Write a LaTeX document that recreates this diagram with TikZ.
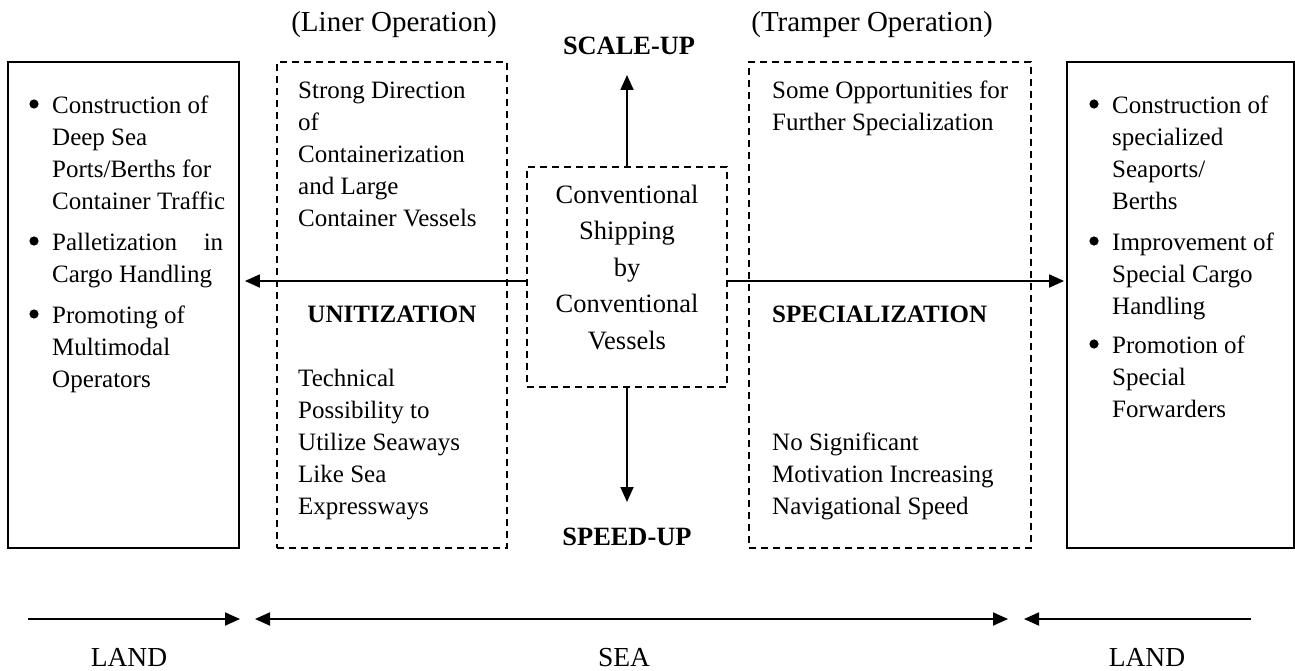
\documentclass[tikz,border=0pt]{standalone}
\usepackage{fontspec}
\setmainfont{Liberation Serif}
\usetikzlibrary{arrows.meta}

\tikzset{
  solidbox/.style={draw, line width=1.8pt, inner sep=0pt},
  dashbox/.style={draw, line width=1.6pt, dash pattern=on 7pt off 5pt, inner sep=0pt},
  arr/.style={line width=1.8pt, -{Triangle[length=15pt,width=13pt]}},
  dblarr/.style={line width=1.8pt, {Triangle[length=15pt,width=13pt]}-{Triangle[length=15pt,width=13pt]}},
  body/.style={inner sep=0pt, font=\fontsize{25}{32}\selectfont, align=left, anchor=north west},
  centretext/.style={inner sep=0pt, font=\fontsize{26.5}{36.5}\selectfont, align=center, anchor=north},
  head/.style={inner sep=0pt, font=\fontsize{29}{34}\selectfont, anchor=base},
  tag/.style={inner sep=0pt, font=\fontsize{26.4}{30}\selectfont\bfseries, anchor=base},
  keyword/.style={inner sep=0pt, font=\fontsize{25}{30}\selectfont\bfseries, anchor=base},
  region/.style={inner sep=0pt, font=\fontsize{27.5}{32}\selectfont, anchor=base},
  dot/.style={fill=black}
}

\begin{document}
\begin{tikzpicture}[x=1pt, y=-1pt]
\useasboundingbox (0,0) rectangle (1295,671);

% boxes
\node[solidbox, minimum width=231pt, minimum height=486pt] (landL) at (123.5,305) {};
\node[dashbox,  minimum width=230pt, minimum height=486pt] (liner) at (392,305) {};
\node[dashbox,  minimum width=200pt, minimum height=220pt] (conv) at (627,277) {};
\node[dashbox,  minimum width=282pt, minimum height=486pt] (tramper) at (890,305) {};
\node[solidbox, minimum width=227pt, minimum height=486pt] (landR) at (1180.5,305) {};

% headings above the sea columns
\node[head] (hLiner) at (394,32) {(Liner Operation)};
\node[head] (hTramper) at (872,32) {(Tramper Operation)};

% centre box
\node[centretext] (convText) at (627,177.45)
  {\strut Conventional\\Shipping\\by\\Conventional\\Vessels};

% direction arrows from the centre box
\coordinate (upEnd) at (627,75);
\coordinate (downEnd) at (627,502);
\coordinate (hl) at ([yshift=-4pt]conv.west);
\coordinate (hr) at ([yshift=-4pt]conv.east);
\draw[arr] (conv.north) -- (conv.north |- upEnd);
\draw[arr] (conv.south) -- (conv.south |- downEnd);
\draw[arr, shorten >=5pt] (hl) -- (hl -| landL.east);
\draw[arr, shorten >=2pt] (hr) -- (hr -| landR.west);

\node[tag] (scaleUp) at (629,55) {SCALE-UP};
\node[tag] (speedUp) at (627,545) {SPEED-UP};

% liner column
\node[body] (linerTop) at (298,75.6)
  {\strut Strong Direction\\of\\Containerization\\and Large\\Container Vessels};
\node[keyword] (unit) at (392,322) {UNITIZATION};
\node[body] (linerBottom) at (298,363.6)
  {\strut Technical\\Possibility to\\Utilize Seaways\\Like Sea\\Expressways};

% tramper column
\node[body] (trampTop) at (772,75.6)
  {\strut Some Opportunities for\\Further Specialization};
\node[keyword, anchor=base west] (spec) at (772,322) {SPECIALIZATION};
\node[body] (trampBottom) at (772,427.6)
  {\strut No Significant\\Motivation Increasing\\Navigational Speed};

% land side, liner ports
\fill[dot] (34,104) circle (4.6pt);
\fill[dot] (34,241) circle (4.6pt);
\fill[dot] (34,314) circle (4.6pt);
\node[body] (lA) at (52,90.6)
  {\strut Construction of\\Deep Sea\\Ports/Berths for\\Container Traffic};
\node[body] (lB) at (52,227.6)
  {\strut\makebox[171pt][l]{Palletization\hfill in}\\Cargo Handling};
\node[body] (lC) at (52,300.6)
  {\strut Promoting of\\Multimodal\\Operators};

% land side, special ports
\fill[dot] (1094,104) circle (4.6pt);
\fill[dot] (1094,241) circle (4.6pt);
\fill[dot] (1094,344) circle (4.6pt);
\node[body] (rA) at (1112,90.6)
  {\strut Construction of\\specialized\\Seaports/\\Berths};
\node[body] (rB) at (1112,227.6)
  {\strut Improvement of\\Special Cargo\\Handling};
\node[body] (rC) at (1112,330.6)
  {\strut Promotion of\\Special\\Forwarders};

% land / sea scale
\coordinate (la) at (28,619);
\coordinate (lb) at (240,619);
\coordinate (sa) at (255,619);
\coordinate (sb) at (1008,619);
\coordinate (ra) at (1251,619);
\coordinate (rb) at (1024,619);
\draw[arr] (la) -- (lb);
\draw[dblarr] (sa) -- (sb);
\draw[arr] (ra) -- (rb);

\node[region] (landLeft) at (129,666.5) {LAND};
\node[region] (sea) at (624,666.5) {SEA};
\node[region] (landRight) at (1147,666.5) {LAND};
\end{tikzpicture}
\end{document}
